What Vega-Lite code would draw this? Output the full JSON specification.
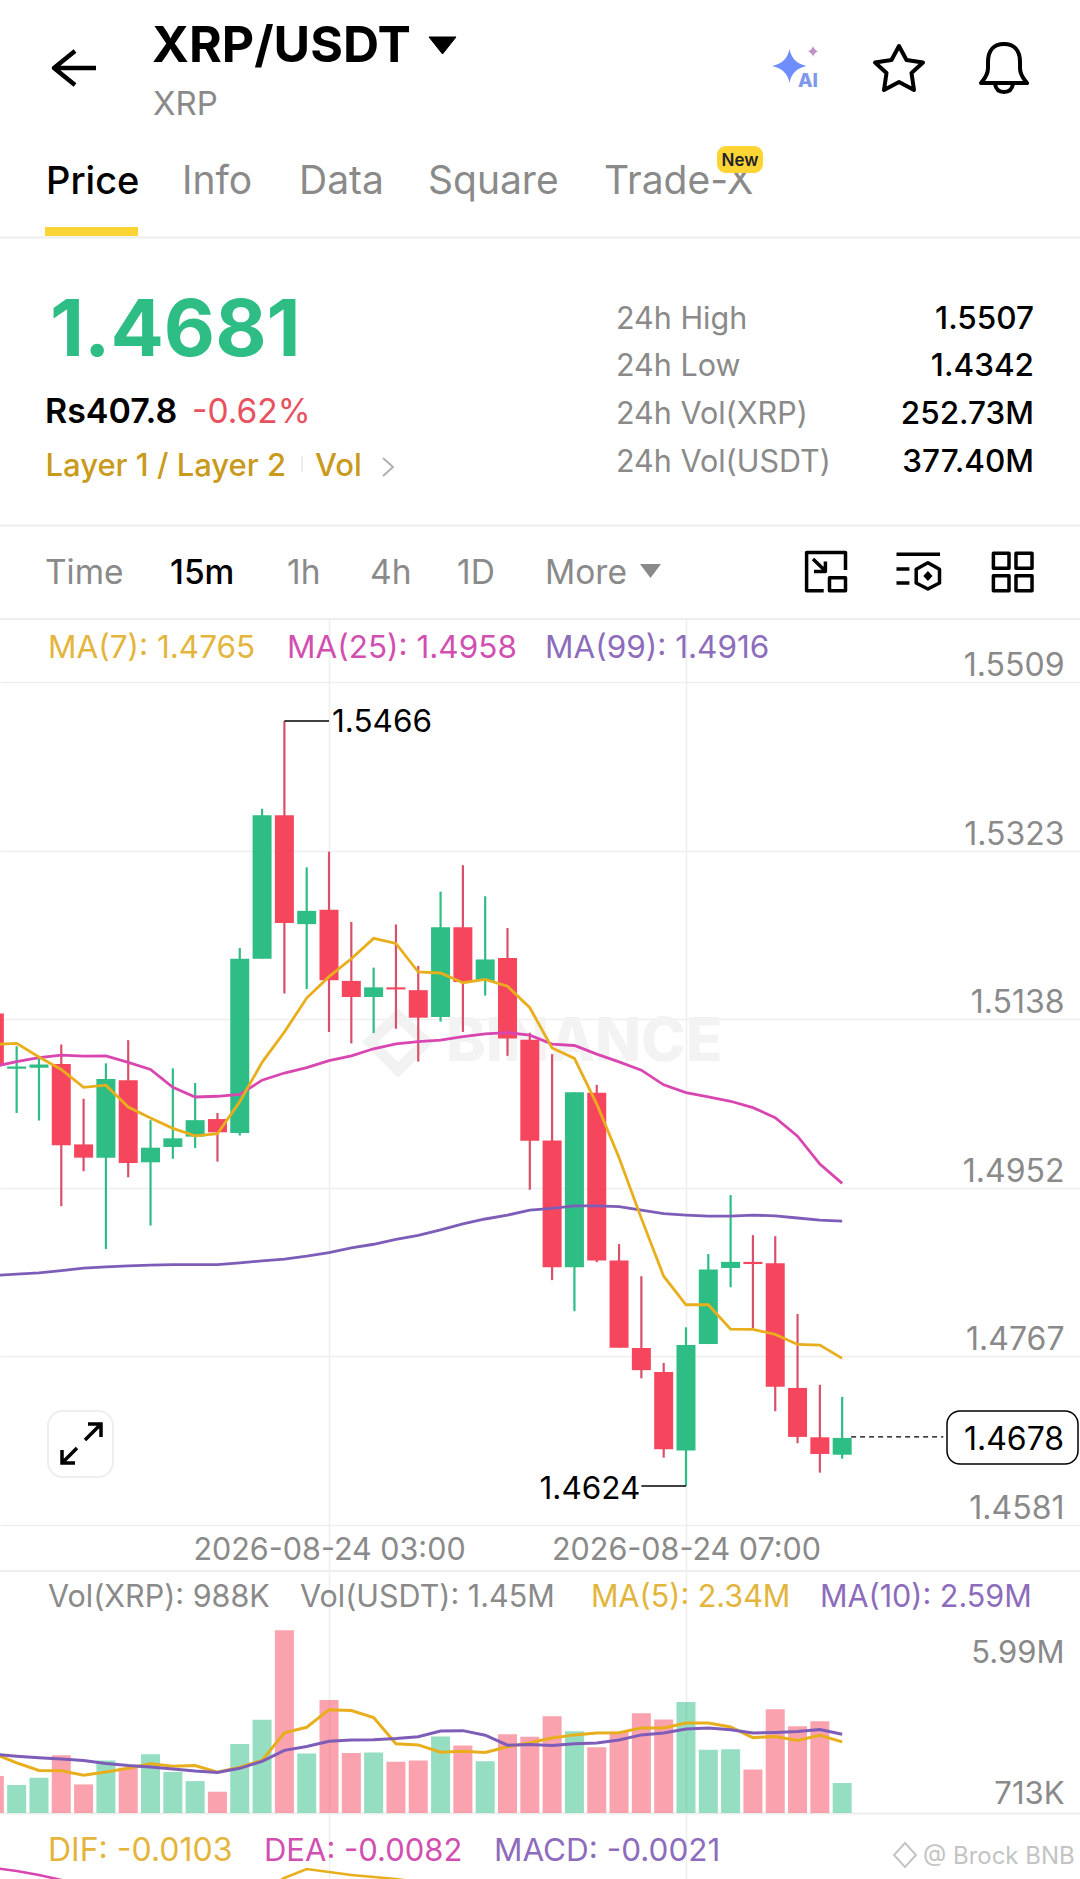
{
"$schema":"https://vega.github.io/schema/vega-lite/v6.json",
"padding":0,
"background":"#ffffff",
"bounds":"flush",
"spacing":0,
"config":{"view":{"stroke":null},"concat":{"spacing":0},"text":{"font":"Inter","baseline":"alphabetic"}},
"datasets":{
"one":[{}],
"candles":[
{"t":"2026-08-23T23:15:00Z","o":1.51442,"c":1.50865,"h":1.51442,"l":1.50865,"side":"down","vol":1220000,"ma7":1.51100,"ma25":1.50857,"ma99":1.48558,"vma5":1950000,"vma10":1930000},
{"t":"2026-08-23T23:30:00Z","o":1.50833,"c":1.50857,"h":1.51081,"l":1.50346,"side":"up","vol":920000,"ma7":1.51112,"ma25":1.50912,"ma99":1.48572,"vma5":1650000,"vma10":1870000},
{"t":"2026-08-23T23:45:00Z","o":1.50845,"c":1.50880,"h":1.50943,"l":1.50263,"side":"up","vol":1160000,"ma7":1.50963,"ma25":1.50955,"ma99":1.48585,"vma5":1400000,"vma10":1820000},
{"t":"2026-08-24T00:00:00Z","o":1.50884,"c":1.49992,"h":1.51100,"l":1.49320,"side":"down","vol":1900000,"ma7":1.50825,"ma25":1.50982,"ma99":1.48611,"vma5":1390000,"vma10":1780000},
{"t":"2026-08-24T00:15:00Z","o":1.50000,"c":1.49854,"h":1.50503,"l":1.49705,"side":"down","vol":940000,"ma7":1.50629,"ma25":1.50971,"ma99":1.48638,"vma5":1240000,"vma10":1730000},
{"t":"2026-08-24T00:30:00Z","o":1.49854,"c":1.50719,"h":1.50892,"l":1.48848,"side":"up","vol":1730000,"ma7":1.50652,"ma25":1.50975,"ma99":1.48651,"vma5":1350000,"vma10":1630000},
{"t":"2026-08-24T00:45:00Z","o":1.50707,"c":1.49795,"h":1.51148,"l":1.49638,"side":"down","vol":1490000,"ma7":1.50412,"ma25":1.50904,"ma99":1.48664,"vma5":1470000,"vma10":1560000},
{"t":"2026-08-24T01:00:00Z","o":1.49803,"c":1.49964,"h":1.50267,"l":1.49107,"side":"up","vol":1930000,"ma7":1.50291,"ma25":1.50825,"ma99":1.48671,"vma5":1620000,"vma10":1510000},
{"t":"2026-08-24T01:15:00Z","o":1.49972,"c":1.50067,"h":1.50837,"l":1.49842,"side":"up","vol":1350000,"ma7":1.50177,"ma25":1.50629,"ma99":1.48677,"vma5":1540000,"vma10":1450000},
{"t":"2026-08-24T01:30:00Z","o":1.50086,"c":1.50267,"h":1.50676,"l":1.49960,"side":"up","vol":1050000,"ma7":1.50094,"ma25":1.50522,"ma99":1.48677,"vma5":1560000,"vma10":1380000},
{"t":"2026-08-24T01:45:00Z","o":1.50279,"c":1.50133,"h":1.50346,"l":1.49811,"side":"down","vol":700000,"ma7":1.50118,"ma25":1.50530,"ma99":1.48677,"vma5":1340000,"vma10":1330000},
{"t":"2026-08-24T02:00:00Z","o":1.50125,"c":1.52044,"h":1.52162,"l":1.50098,"side":"up","vol":2270000,"ma7":1.50471,"ma25":1.50550,"ma99":1.48697,"vma5":1510000,"vma10":1470000},
{"t":"2026-08-24T02:15:00Z","o":1.52044,"c":1.53624,"h":1.53695,"l":1.52044,"side":"up","vol":3070000,"ma7":1.50904,"ma25":1.50707,"ma99":1.48717,"vma5":1730000,"vma10":1700000},
{"t":"2026-08-24T02:30:00Z","o":1.53624,"c":1.52437,"h":1.54660,"l":1.51662,"side":"down","vol":6010000,"ma7":1.51238,"ma25":1.50786,"ma99":1.48737,"vma5":2640000,"vma10":2060000},
{"t":"2026-08-24T02:45:00Z","o":1.52425,"c":1.52571,"h":1.53050,"l":1.51710,"side":"up","vol":1960000,"ma7":1.51611,"ma25":1.50845,"ma99":1.48770,"vma5":2820000,"vma10":2190000},
{"t":"2026-08-24T03:00:00Z","o":1.52582,"c":1.51808,"h":1.53223,"l":1.51238,"side":"down","vol":3720000,"ma7":1.51847,"ma25":1.50923,"ma99":1.48809,"vma5":3400000,"vma10":2360000},
{"t":"2026-08-24T03:15:00Z","o":1.51800,"c":1.51623,"h":1.52449,"l":1.51112,"side":"down","vol":1970000,"ma7":1.52044,"ma25":1.50975,"ma99":1.48862,"vma5":3370000,"vma10":2400000},
{"t":"2026-08-24T03:30:00Z","o":1.51623,"c":1.51729,"h":1.51946,"l":1.51226,"side":"up","vol":1990000,"ma7":1.52268,"ma25":1.51053,"ma99":1.48901,"vma5":3140000,"vma10":2410000},
{"t":"2026-08-24T03:45:00Z","o":1.51729,"c":1.51706,"h":1.52421,"l":1.51273,"side":"down","vol":1690000,"ma7":1.52213,"ma25":1.51108,"ma99":1.48954,"vma5":2280000,"vma10":2450000},
{"t":"2026-08-24T04:00:00Z","o":1.51698,"c":1.51395,"h":1.51965,"l":1.50912,"side":"down","vol":1730000,"ma7":1.51898,"ma25":1.51132,"ma99":1.49000,"vma5":2240000,"vma10":2510000},
{"t":"2026-08-24T04:15:00Z","o":1.51403,"c":1.52390,"h":1.52783,"l":1.51352,"side":"up","vol":2520000,"ma7":1.51887,"ma25":1.51148,"ma99":1.49060,"vma5":2000000,"vma10":2700000},
{"t":"2026-08-24T04:30:00Z","o":1.52390,"c":1.51788,"h":1.53074,"l":1.51238,"side":"down","vol":2220000,"ma7":1.51780,"ma25":1.51187,"ma99":1.49126,"vma5":2030000,"vma10":2710000},
{"t":"2026-08-24T04:45:00Z","o":1.51800,"c":1.52036,"h":1.52732,"l":1.51639,"side":"up","vol":1700000,"ma7":1.51816,"ma25":1.51218,"ma99":1.49179,"vma5":1990000,"vma10":2560000},
{"t":"2026-08-24T05:00:00Z","o":1.52052,"c":1.51167,"h":1.52382,"l":1.50975,"side":"down","vol":2590000,"ma7":1.51741,"ma25":1.51230,"ma99":1.49222,"vma5":2180000,"vma10":2230000},
{"t":"2026-08-24T05:15:00Z","o":1.51152,"c":1.50039,"h":1.51230,"l":1.49501,"side":"down","vol":2510000,"ma7":1.51505,"ma25":1.51203,"ma99":1.49276,"vma5":2310000,"vma10":2250000},
{"t":"2026-08-24T05:30:00Z","o":1.50043,"c":1.48648,"h":1.50994,"l":1.48506,"side":"down","vol":3180000,"ma7":1.51061,"ma25":1.51104,"ma99":1.49296,"vma5":2470000,"vma10":2220000},
{"t":"2026-08-24T05:45:00Z","o":1.48648,"c":1.50574,"h":1.50574,"l":1.48164,"side":"up","vol":2690000,"ma7":1.50947,"ma25":1.51089,"ma99":1.49324,"vma5":2570000,"vma10":2280000},
{"t":"2026-08-24T06:00:00Z","o":1.50570,"c":1.48722,"h":1.50656,"l":1.48703,"side":"down","vol":2160000,"ma7":1.50444,"ma25":1.50994,"ma99":1.49324,"vma5":2630000,"vma10":2300000},
{"t":"2026-08-24T06:15:00Z","o":1.48722,"c":1.47763,"h":1.48903,"l":1.47763,"side":"down","vol":2670000,"ma7":1.49854,"ma25":1.50908,"ma99":1.49316,"vma5":2640000,"vma10":2400000},
{"t":"2026-08-24T06:30:00Z","o":1.47759,"c":1.47515,"h":1.48549,"l":1.47425,"side":"down","vol":3280000,"ma7":1.49186,"ma25":1.50817,"ma99":1.49276,"vma5":2800000,"vma10":2570000},
{"t":"2026-08-24T06:45:00Z","o":1.47496,"c":1.46643,"h":1.47594,"l":1.46552,"side":"down","vol":3080000,"ma7":1.48549,"ma25":1.50656,"ma99":1.49237,"vma5":2800000,"vma10":2630000},
{"t":"2026-08-24T07:00:00Z","o":1.46631,"c":1.47791,"h":1.47987,"l":1.46240,"side":"up","vol":3650000,"ma7":1.48235,"ma25":1.50570,"ma99":1.49221,"vma5":2960000,"vma10":2760000},
{"t":"2026-08-24T07:15:00Z","o":1.47802,"c":1.48624,"h":1.48793,"l":1.47802,"side":"up","vol":2080000,"ma7":1.48235,"ma25":1.50523,"ma99":1.49210,"vma5":2960000,"vma10":2800000},
{"t":"2026-08-24T07:30:00Z","o":1.48640,"c":1.48707,"h":1.49442,"l":1.48427,"side":"up","vol":2100000,"ma7":1.47967,"ma25":1.50475,"ma99":1.49210,"vma5":2830000,"vma10":2740000},
{"t":"2026-08-24T07:45:00Z","o":1.48707,"c":1.48683,"h":1.49001,"l":1.47979,"side":"down","vol":1430000,"ma7":1.47964,"ma25":1.50405,"ma99":1.49221,"vma5":2480000,"vma10":2630000},
{"t":"2026-08-24T08:00:00Z","o":1.48691,"c":1.47331,"h":1.48990,"l":1.47063,"side":"down","vol":3410000,"ma7":1.47908,"ma25":1.50295,"ma99":1.49214,"vma5":2520000,"vma10":2650000},
{"t":"2026-08-24T08:15:00Z","o":1.47319,"c":1.46780,"h":1.48133,"l":1.46710,"side":"down","vol":2850000,"ma7":1.47798,"ma25":1.50090,"ma99":1.49190,"vma5":2390000,"vma10":2680000},
{"t":"2026-08-24T08:30:00Z","o":1.46776,"c":1.46592,"h":1.47354,"l":1.46387,"side":"down","vol":3020000,"ma7":1.47791,"ma25":1.49784,"ma99":1.49166,"vma5":2560000,"vma10":2750000},
{"t":"2026-08-24T08:45:00Z","o":1.46584,"c":1.46769,"h":1.47221,"l":1.46540,"side":"up","vol":988000,"ma7":1.47645,"ma25":1.49571,"ma99":1.49155,"vma5":2340000,"vma10":2590000}
],
"macd":[
{"t":"2026-08-24T02:15:00Z","name":"DIF","v":0.0029},
{"t":"2026-08-24T02:30:00Z","name":"DIF","v":0.0041},
{"t":"2026-08-24T02:45:00Z","name":"DIF","v":0.0050},
{"t":"2026-08-24T03:00:00Z","name":"DIF","v":0.0047},
{"t":"2026-08-24T03:15:00Z","name":"DIF","v":0.0044},
{"t":"2026-08-24T03:30:00Z","name":"DIF","v":0.0042},
{"t":"2026-08-24T03:45:00Z","name":"DIF","v":0.0040},
{"t":"2026-08-24T04:00:00Z","name":"DIF","v":0.0037},
{"t":"2026-08-23T23:15:00Z","name":"DEA","v":0.0051},
{"t":"2026-08-23T23:30:00Z","name":"DEA","v":0.0048},
{"t":"2026-08-23T23:45:00Z","name":"DEA","v":0.0044},
{"t":"2026-08-24T00:00:00Z","name":"DEA","v":0.0039},
{"t":"2026-08-24T00:15:00Z","name":"DEA","v":0.0034}
]
},
"vconcat":[
{"width":1080,"height":618,"data":{"name":"one"},"layer":[
{"mark":{"type":"text","text":"XRP/USDT","x":152,"y":62,"fontSize":50,"fontWeight":700,"color":"#000000","align":"left"}},
{"mark":{"type":"point","clip":true,"x":0,"y":0,"size":4,"shape":"M429 37H456L442.5 54Z","filled":true,"fill":"#000000","stroke":"#000000","strokeWidth":1,"opacity":1}},
{"mark":{"type":"text","text":"XRP","x":153,"y":115,"fontSize":33,"color":"#8a8a8a","align":"left"}},
{"mark":{"type":"point","clip":true,"x":0,"y":0,"size":4,"shape":"M96 68H55M75 51L54 68L75 85","filled":false,"stroke":"#000000","strokeWidth":4.5,"strokeJoin":"round","opacity":1}},
{"mark":{"type":"point","clip":true,"x":0,"y":0,"size":4,"shape":"M789.5 49Q792 63 806.5 66Q792 69 789.5 83Q787 69 772 66Q787 63 789.5 49Z","filled":true,"fill":"#6f8dfb","opacity":1}},
{"mark":{"type":"point","clip":true,"x":0,"y":0,"size":4,"shape":"M813 46Q814 50 818 51.3Q814 53 813 57Q812 53 808 51.3Q812 50 813 46Z","filled":true,"fill":"#c28fc9","opacity":1}},
{"mark":{"type":"text","text":"AI","x":798,"y":87,"fontSize":19,"fontWeight":800,"color":"#7f98ee","align":"left"}},
{"mark":{"type":"point","clip":true,"x":0,"y":0,"size":4,"shape":"M899 46L906.5 60L923 62.5L911.5 73L914 90L899 82L884 90L886.5 73L875 62.5L891.5 60Z","filled":false,"stroke":"#000000","strokeWidth":4,"strokeJoin":"round","opacity":1}},
{"mark":{"type":"point","clip":true,"x":0,"y":0,"size":4,"shape":"M981 83C983 80 988 76 988 68V62C988 50 994 44 1004 44C1014 44 1020 50 1020 62V68C1020 76 1025 80 1027 83ZM995 84C996 90 1000 92 1004 92C1008 92 1012 90 1013 84","filled":false,"stroke":"#000000","strokeWidth":4,"strokeJoin":"round","opacity":1}},
{"mark":{"type":"text","text":"Price","x":46,"y":194,"fontSize":38,"fontWeight":500,"color":"#000000","align":"left"}},
{"mark":{"type":"text","text":"Info","x":182,"y":194,"fontSize":39,"color":"#8a8a8a","align":"left"}},
{"mark":{"type":"text","text":"Data","x":299,"y":194,"fontSize":39,"color":"#8a8a8a","align":"left"}},
{"mark":{"type":"text","text":"Square","x":428,"y":194,"fontSize":39,"color":"#8a8a8a","align":"left"}},
{"mark":{"type":"text","text":"Trade-X","x":604,"y":194,"fontSize":39,"color":"#8a8a8a","align":"left"}},
{"mark":{"type":"point","clip":true,"x":0,"y":0,"size":4,"shape":"M726 146H754A9 9 0 0 1 763 155V164A9 9 0 0 1 754 173H726A9 9 0 0 1 717 164V155A9 9 0 0 1 726 146Z","filled":true,"fill":"#fcd535","opacity":1}},
{"mark":{"type":"text","text":"New","x":740,"y":166,"fontSize":17,"fontWeight":600,"color":"#1e2329","align":"center"}},
{"mark":{"type":"point","clip":true,"x":0,"y":0,"size":4,"shape":"M45 227H138V236H45Z","filled":true,"fill":"#fcd535","opacity":1}},
{"mark":{"type":"point","clip":true,"x":0,"y":0,"size":4,"shape":"M0 237.5H1080M0 525.5H1080","filled":false,"stroke":"#eeeeee","strokeWidth":2,"opacity":1}},
{"mark":{"type":"text","text":"1.4681","x":50,"y":356,"fontSize":79,"fontWeight":700,"color":"#2ebd85","align":"left"}},
{"mark":{"type":"text","text":"Rs407.8","x":45,"y":423,"fontSize":34,"fontWeight":600,"color":"#000000","align":"left"}},
{"mark":{"type":"text","text":"-0.62%","x":192,"y":423,"fontSize":33.5,"color":"#e8525f","align":"left"}},
{"mark":{"type":"text","text":"Layer 1 / Layer 2","x":45.5,"y":476,"fontSize":31,"fontWeight":500,"color":"#c99a1c","align":"left"}},
{"mark":{"type":"point","clip":true,"x":0,"y":0,"size":4,"shape":"M302 456V472","filled":false,"stroke":"#e8e8e8","strokeWidth":1.5,"opacity":1}},
{"mark":{"type":"text","text":"Vol","x":315,"y":476,"fontSize":31,"fontWeight":500,"color":"#c99a1c","align":"left"}},
{"mark":{"type":"point","clip":true,"x":0,"y":0,"size":4,"shape":"M383 458L393 467L383 476","filled":false,"stroke":"#b0b0b0","strokeWidth":2,"opacity":1}},
{"mark":{"type":"text","text":"24h High","x":616,"y":329,"fontSize":30.5,"color":"#8a8a8a","align":"left"}},
{"mark":{"type":"text","text":"24h Low","x":616,"y":376,"fontSize":30.5,"color":"#8a8a8a","align":"left"}},
{"mark":{"type":"text","text":"24h Vol(XRP)","x":616,"y":424,"fontSize":30.5,"color":"#8a8a8a","align":"left"}},
{"mark":{"type":"text","text":"24h Vol(USDT)","x":616,"y":472,"fontSize":30.5,"color":"#8a8a8a","align":"left"}},
{"mark":{"type":"text","text":"1.5507","x":1034,"y":329,"fontSize":31.5,"fontWeight":500,"color":"#000000","align":"right"}},
{"mark":{"type":"text","text":"1.4342","x":1034,"y":376,"fontSize":31.5,"fontWeight":500,"color":"#000000","align":"right"}},
{"mark":{"type":"text","text":"252.73M","x":1034,"y":424,"fontSize":31.5,"fontWeight":500,"color":"#000000","align":"right"}},
{"mark":{"type":"text","text":"377.40M","x":1034,"y":472,"fontSize":31.5,"fontWeight":500,"color":"#000000","align":"right"}},
{"mark":{"type":"text","text":"Time","x":45,"y":584,"fontSize":33.5,"color":"#8a8a8a","align":"left"}},
{"mark":{"type":"text","text":"15m","x":170,"y":584,"fontSize":33.5,"fontWeight":500,"color":"#000000","align":"left"}},
{"mark":{"type":"text","text":"1h","x":287,"y":584,"fontSize":33.5,"color":"#8a8a8a","align":"left"}},
{"mark":{"type":"text","text":"4h","x":370,"y":584,"fontSize":33.5,"color":"#8a8a8a","align":"left"}},
{"mark":{"type":"text","text":"1D","x":457,"y":584,"fontSize":33.5,"color":"#8a8a8a","align":"left"}},
{"mark":{"type":"text","text":"More","x":545,"y":584,"fontSize":33.5,"color":"#8a8a8a","align":"left"}},
{"mark":{"type":"point","clip":true,"x":0,"y":0,"size":4,"shape":"M640 564H661L650.5 578Z","filled":true,"fill":"#8a8a8a","opacity":1}},
{"mark":{"type":"point","clip":true,"x":0,"y":0,"size":4,"shape":"M823.7 590.8H806.6V552.5H845.5V570M829.5 577.8H845.5V590.8H829.5ZM813 559L825.4 571M825.4 561.4V571.6H814","filled":false,"stroke":"#000000","strokeWidth":3.5,"strokeJoin":"round","opacity":1}},
{"mark":{"type":"point","clip":true,"x":0,"y":0,"size":4,"shape":"M896.5 554.2H940M896.5 569H909.4M896.5 583H909.4M927.9 562.8L939.5 569.2V583L927.9 589L916.2 583V569.2Z","filled":false,"stroke":"#000000","strokeWidth":3.5,"strokeJoin":"round","opacity":1}},
{"mark":{"type":"point","clip":true,"x":0,"y":0,"size":4,"shape":"M927.9 571L932.5 576L927.9 581L923.3 576Z","filled":true,"fill":"#000000","opacity":1}},
{"mark":{"type":"point","clip":true,"x":0,"y":0,"size":4,"shape":"M993.4 553.2H1009V568.2H993.4ZM1016 553.2H1032V568.2H1016ZM993.4 575.7H1009V590.8H993.4ZM1016 575.7H1032V590.8H1016Z","filled":false,"stroke":"#000000","strokeWidth":3.5,"strokeJoin":"round","opacity":1}}
]},
{"width":1080,"height":954,"layer":[
{"data":{"name":"one"},"layer":[
{"mark":{"type":"point","clip":true,"x":0,"y":0,"size":4,"shape":"M398 398L426 424L398 452L370 424Z","filled":false,"stroke":"#f2f2f2","strokeWidth":11,"opacity":1}},
{"mark":{"type":"text","text":"BINANCE","x":446,"y":443,"fontSize":60,"fontWeight":800,"color":"#f3f3f3","align":"left"}}
]},
{"data":{"name":"candles"},
"encoding":{"x":{"field":"t","type":"temporal","title":null,
"scale":{"type":"utc","padding":0,"domain":[{"year":2026,"month":8,"date":23,"hours":23,"minutes":18,"seconds":48,"utc":true},{"year":2026,"month":8,"date":24,"hours":11,"minutes":24,"seconds":54,"utc":true}]},
"axis":{"orient":"bottom","values":[{"year":2026,"month":8,"date":24,"hours":3,"utc":true},{"year":2026,"month":8,"date":24,"hours":7,"utc":true}],"format":"%Y-%m-%d %H:%M","grid":true,"gridColor":"#eeeeee","gridWidth":1.5,"ticks":false,"domain":false,"labelColor":"#8a8a8a","labelFont":"Inter","labelFontSize":30.5,"labelLimit":400,"labelPadding":-22,"labelBaseline":"middle","labelFlush":false,"labelOverlap":false,"labelBound":false}}},
"layer":[
{"mark":{"type":"rule","strokeWidth":2.2,"clip":true},"encoding":{
"y":{"field":"h","type":"quantitative","title":null,"scale":{"domain":[1.45293,1.55795],"zero":false,"nice":false},
"axis":{"orient":"right","values":[1.5509,1.5323,1.5138,1.4952,1.4767,1.4581],"format":".4f","grid":true,"gridColor":"#eeeeee","gridWidth":1.5,"ticks":false,"domain":false,"labelAlign":"right","labelBaseline":"bottom","labelPadding":-16,"labelColor":"#8a8a8a","labelFont":"Inter","labelFontSize":32,"labelOverlap":false,"labelFlush":false,"labelBound":false}},
"y2":{"field":"l"},
"stroke":{"field":"side","type":"nominal","legend":null,"scale":{"domain":["up","down"],"range":["#2ebd85","#d9506a"]}}}},
{"mark":{"type":"bar","size":19,"clip":true,"orient":"vertical"},"encoding":{
"y":{"field":"o","type":"quantitative","scale":{"domain":[1.45293,1.55795],"zero":false,"nice":false}},
"y2":{"field":"c"},
"fill":{"field":"side","type":"nominal","legend":null,"scale":{"domain":["up","down"],"range":["#2ebd85","#f6465d"]}}}},
{"mark":{"type":"line","color":"#7e5db8","strokeWidth":2.8,"clip":true},"encoding":{"y":{"field":"ma99","type":"quantitative","scale":{"domain":[1.45293,1.55795],"zero":false,"nice":false}}}},
{"mark":{"type":"line","color":"#d946b0","strokeWidth":2.8,"clip":true},"encoding":{"y":{"field":"ma25","type":"quantitative","scale":{"domain":[1.45293,1.55795],"zero":false,"nice":false}}}},
{"mark":{"type":"line","color":"#e8ae1c","strokeWidth":2.8,"clip":true},"encoding":{"y":{"field":"ma7","type":"quantitative","scale":{"domain":[1.45293,1.55795],"zero":false,"nice":false}}}}
]},
{"data":{"values":[
{"t":"2026-08-24T02:30:00Z","t2":"2026-08-24T03:00:00Z","price":1.5466,"label":"1.5466"},
{"t":"2026-08-24T06:30:00Z","t2":"2026-08-24T07:00:00Z","price":1.4624,"label":"1.4624"}
],"format":{"parse":{"t":"date","t2":"date"}}},
"layer":[
{"mark":{"type":"rule","stroke":"#000000","strokeWidth":1.5},"encoding":{
"x":{"field":"t","type":"temporal"},"x2":{"field":"t2"},
"y":{"field":"price","type":"quantitative","scale":{"domain":[1.45293,1.55795],"zero":false,"nice":false}}}},
{"transform":[{"filter":"datum.label==='1.5466'"}],"mark":{"type":"text","align":"left","baseline":"middle","dx":3,"dy":2,"fontSize":31.5,"color":"#000000"},"encoding":{
"x":{"field":"t2","type":"temporal"},
"y":{"field":"price","type":"quantitative","scale":{"domain":[1.45293,1.55795],"zero":false,"nice":false}},
"text":{"field":"label"}}},
{"transform":[{"filter":"datum.label==='1.4624'"}],"mark":{"type":"text","align":"right","baseline":"middle","dx":-1,"dy":4,"fontSize":31.5,"color":"#000000"},"encoding":{
"x":{"field":"t","type":"temporal"},
"y":{"field":"price","type":"quantitative","scale":{"domain":[1.45293,1.55795],"zero":false,"nice":false}},
"text":{"field":"label"}}}
]},
{"data":{"values":[{"t":"2026-08-24T08:51:00Z","t2":"2026-08-24T09:53:00Z","price":1.4678,"label":"1.4678"}],"format":{"parse":{"t":"date","t2":"date"}}},
"layer":[
{"mark":{"type":"rule","stroke":"#000000","strokeWidth":1.3,"strokeDash":[5,4]},"encoding":{
"x":{"field":"t","type":"temporal"},"x2":{"field":"t2"},
"y":{"field":"price","type":"quantitative","scale":{"domain":[1.45293,1.55795],"zero":false,"nice":false}}}},
{"mark":{"type":"point","clip":true,"x":0,"y":0,"size":4,"shape":"M960 793H1065A13 13 0 0 1 1078 806V833A13 13 0 0 1 1065 846H960A13 13 0 0 1 947 833V806A13 13 0 0 1 960 793Z","filled":true,"fill":"#ffffff","stroke":"#000000","strokeWidth":1.5,"opacity":1}},
{"mark":{"type":"text","x":1014,"align":"center","baseline":"middle","dy":3,"fontSize":32,"color":"#000000"},"encoding":{
"y":{"field":"price","type":"quantitative","scale":{"domain":[1.45293,1.55795],"zero":false,"nice":false}},
"text":{"field":"label"}}}
]},
{"data":{"name":"one"},"layer":[
{"mark":{"type":"point","clip":true,"x":0,"y":0,"size":4,"shape":"M0 1H1080M0 953H1080","filled":false,"stroke":"#eeeeee","strokeWidth":2,"opacity":1}},
{"mark":{"type":"text","text":"MA(7): 1.4765","x":48,"y":40,"fontSize":31.5,"color":"#e3b53c","align":"left"}},
{"mark":{"type":"text","text":"MA(25): 1.4958","x":287,"y":40,"fontSize":31.5,"color":"#d14fb0","align":"left"}},
{"mark":{"type":"text","text":"MA(99): 1.4916","x":545,"y":40,"fontSize":31.5,"color":"#8d6cbc","align":"left"}},
{"mark":{"type":"point","clip":true,"x":0,"y":0,"size":4,"shape":"M63 793H98A15 15 0 0 1 113 808V844A15 15 0 0 1 98 859H63A15 15 0 0 1 48 844V808A15 15 0 0 1 63 793Z","filled":true,"fill":"#ffffff","stroke":"#eeeeee","strokeWidth":2,"opacity":1}},
{"mark":{"type":"point","clip":true,"x":0,"y":0,"size":4,"shape":"M85 822L100 807M88 806H101V819M77 830L62 845M62 832V845H75","filled":false,"stroke":"#000000","strokeWidth":3.5,"opacity":1}}
]}
]},
{"width":1080,"height":241,"layer":[
{"data":{"name":"candles"},
"encoding":{"x":{"field":"t","type":"temporal","title":null,
"scale":{"type":"utc","padding":0,"domain":[{"year":2026,"month":8,"date":23,"hours":23,"minutes":18,"seconds":48,"utc":true},{"year":2026,"month":8,"date":24,"hours":11,"minutes":24,"seconds":54,"utc":true}]},
"axis":{"orient":"bottom","values":[{"year":2026,"month":8,"date":24,"hours":3,"utc":true},{"year":2026,"month":8,"date":24,"hours":7,"utc":true}],"labels":false,"grid":true,"gridColor":"#eeeeee","gridWidth":1.5,"ticks":false,"domain":true,"domainColor":"#eeeeee","domainWidth":2}}},
"layer":[
{"mark":{"type":"bar","size":19,"opacity":0.5,"clip":true,"orient":"vertical"},"encoding":{
"y":{"field":"vol","type":"quantitative","title":null,"scale":{"domain":[0,7929000],"nice":false},
"axis":{"orient":"right","values":[5990000,713000],"labelExpr":"datum.value>1000000?'5.99M':'713K'","grid":false,"ticks":false,"domain":false,"labelAlign":"right","labelBaseline":"middle","labelOffset":{"condition":{"test":"datum.value>1000000","value":23},"value":3},"labelPadding":-16,"labelColor":"#8a8a8a","labelFont":"Inter","labelFontSize":31,"labelOverlap":false,"labelFlush":false,"labelBound":false}},
"fill":{"field":"side","type":"nominal","legend":null,"scale":{"domain":["up","down"],"range":["#2ebd85","#f6465d"]}}}},
{"mark":{"type":"line","color":"#e8ae1c","strokeWidth":3,"clip":true},"encoding":{"y":{"field":"vma5","type":"quantitative","scale":{"domain":[0,7929000],"nice":false}}}},
{"mark":{"type":"line","color":"#7e5db8","strokeWidth":3,"clip":true},"encoding":{"y":{"field":"vma10","type":"quantitative","scale":{"domain":[0,7929000],"nice":false}}}}
]},
{"data":{"name":"one"},"layer":[
{"mark":{"type":"text","text":"Vol(XRP): 988K","x":48,"y":35,"fontSize":30.5,"color":"#8a8a8a","align":"left"}},
{"mark":{"type":"text","text":"Vol(USDT): 1.45M","x":300,"y":35,"fontSize":30.5,"color":"#8a8a8a","align":"left"}},
{"mark":{"type":"text","text":"MA(5): 2.34M","x":591,"y":35,"fontSize":30.5,"color":"#e3b53c","align":"left"}},
{"mark":{"type":"text","text":"MA(10): 2.59M","x":820,"y":35,"fontSize":30.5,"color":"#8d6cbc","align":"left"}}
]}
]},
{"width":1080,"height":66,"layer":[
{"data":{"name":"macd"},
"mark":{"type":"line","strokeWidth":2.5,"clip":true},
"encoding":{"x":{"field":"t","type":"temporal","title":null,
"scale":{"type":"utc","padding":0,"domain":[{"year":2026,"month":8,"date":23,"hours":23,"minutes":18,"seconds":48,"utc":true},{"year":2026,"month":8,"date":24,"hours":11,"minutes":24,"seconds":54,"utc":true}]},
"axis":{"orient":"bottom","values":[{"year":2026,"month":8,"date":24,"hours":3,"utc":true},{"year":2026,"month":8,"date":24,"hours":7,"utc":true}],"labels":false,"grid":true,"gridColor":"#eeeeee","gridWidth":1.5,"ticks":false,"domain":false}},
"y":{"field":"v","type":"quantitative","axis":null,"scale":{"domain":[0.0040,0.0106],"zero":false,"nice":false}},
"color":{"field":"name","type":"nominal","legend":null,"scale":{"domain":["DIF","DEA"],"range":["#e8ae1c","#d946b0"]}}}},
{"data":{"name":"one"},"layer":[
{"mark":{"type":"text","text":"DIF: -0.0103","x":48,"y":48,"fontSize":32,"color":"#e3b53c","align":"left"}},
{"mark":{"type":"text","text":"DEA: -0.0082","x":264,"y":48,"fontSize":31,"color":"#d14fb0","align":"left"}},
{"mark":{"type":"text","text":"MACD: -0.0021","x":494,"y":48,"fontSize":31.5,"color":"#8d6cbc","align":"left"}},
{"mark":{"type":"text","text":"@ Brock BNB","x":923,"y":51,"fontSize":24,"color":"#c4c4c4","align":"left"}},
{"mark":{"type":"point","clip":true,"x":0,"y":0,"size":4,"shape":"M905 30L916 42L905 54L894 42Z","filled":false,"stroke":"#c4c4c4","strokeWidth":2,"opacity":1}}
]}
]}
]
}
